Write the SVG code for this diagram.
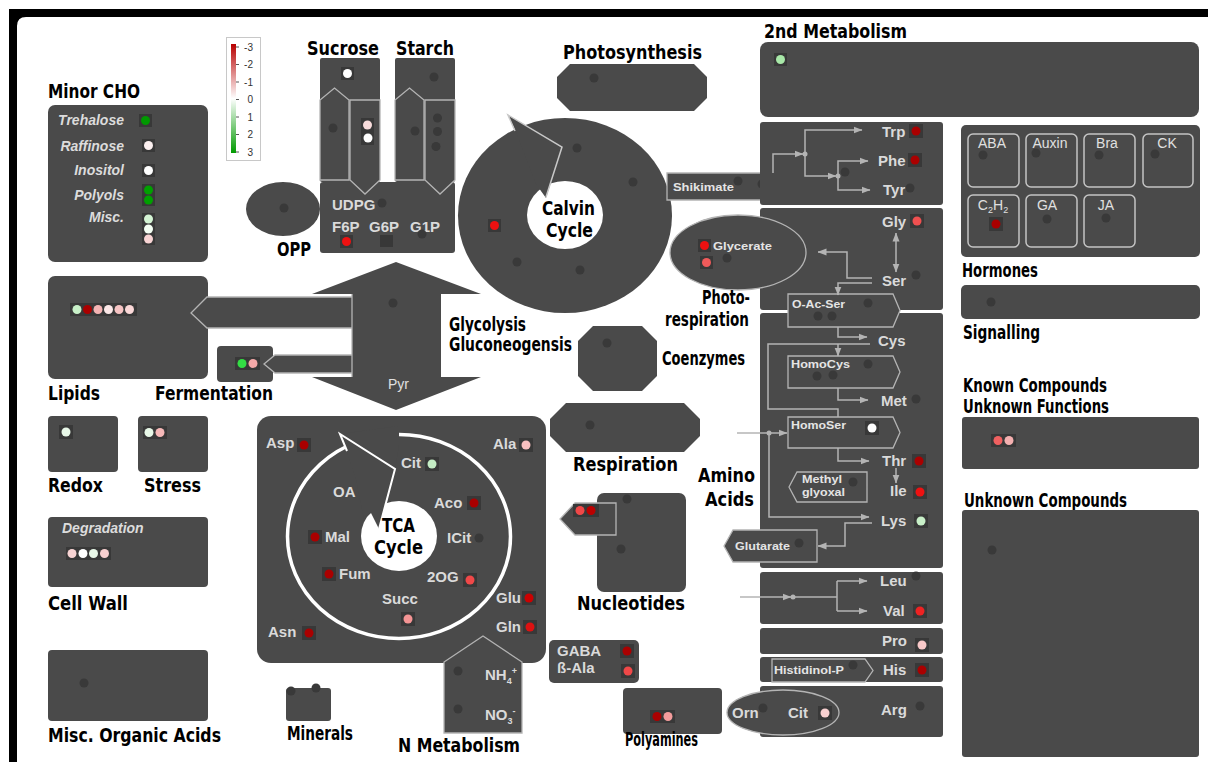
<svg xmlns="http://www.w3.org/2000/svg" width="1208" height="762" viewBox="0 0 1208 762">
<defs>
<style>
.n{fill:#4a4a4a}
.o{fill:#4a4a4a;stroke:#b4b4b4;stroke-width:1.3}
.ln{fill:none;stroke:#b4b4b4;stroke-width:1.3}
.bk{fill:#383838}
.d{fill:#393939}
.h{font-family:"DejaVu Sans Condensed","DejaVu Sans",sans-serif;font-stretch:condensed;font-weight:bold;font-size:19px;fill:#000}
.t{font-family:"Liberation Sans",Arial,sans-serif;font-weight:bold;font-size:15px;fill:#dadada}
.s{font-family:"Liberation Sans",Arial,sans-serif;font-weight:bold;font-size:11px;fill:#e4e4e4}
.i{font-family:"Liberation Sans",Arial,sans-serif;font-weight:bold;font-style:italic;font-size:14px;fill:#dcdcdc}
.g{font-family:"Liberation Sans",Arial,sans-serif;font-size:14px;fill:#e0e0e0}
.lg{font-family:"Liberation Sans",Arial,sans-serif;font-size:10px;fill:#333}
.c{fill:none;stroke:#b4b4b4;stroke-width:1.5}
.j{fill:#b4b4b4}
.hb{fill:none;stroke:#c4c4c4;stroke-width:1.5}
</style>
<marker id="ah" viewBox="0 0 9 8" markerWidth="9" markerHeight="8" refX="8.5" refY="4" orient="auto-start-reverse" markerUnits="userSpaceOnUse"><path d="M0,0.5 L9,4 L0,7.5 Z" fill="#b4b4b4"/></marker>
<linearGradient id="lgd" x1="0" y1="0" x2="0" y2="1"><stop offset="0" stop-color="#b80000"/><stop offset="0.5" stop-color="#ffffff"/><stop offset="1" stop-color="#009a00"/></linearGradient>
</defs>
<rect width="1208" height="762" fill="#fff"/>
<path d="M9,9 H1208 V17 H26 Q17,17 17,26 V762 H9 Z" fill="#000"/>

<g id="legend">
<rect x="226.5" y="37.5" width="34" height="123" fill="#fff" stroke="#c8c8c8"/>
<rect x="231" y="44" width="5" height="109" fill="url(#lgd)"/>
<path d="M236,47H239M236,64.5H239M236,82H239M236,99.5H239M236,117H239M236,134.5H239M236,152H239" stroke="#555" stroke-width="1"/>
<text class="lg" x="253" y="50.5" text-anchor="end">-3</text>
<text class="lg" x="253" y="68" text-anchor="end">-2</text>
<text class="lg" x="253" y="85.5" text-anchor="end">-1</text>
<text class="lg" x="253" y="103" text-anchor="end">0</text>
<text class="lg" x="253" y="120.5" text-anchor="end">1</text>
<text class="lg" x="253" y="138" text-anchor="end">2</text>
<text class="lg" x="253" y="155.5" text-anchor="end">3</text>
</g>

<g id="minor-cho">
<text class="h" x="48" y="98" textLength="92" lengthAdjust="spacingAndGlyphs">Minor CHO</text>
<rect class="n" x="48" y="105" width="160" height="157" rx="7"/>
<text class="i" x="124" y="125" text-anchor="end">Trehalose</text>
<text class="i" x="124" y="151" text-anchor="end">Raffinose</text>
<text class="i" x="124" y="175" text-anchor="end">Inositol</text>
<text class="i" x="124" y="200" text-anchor="end">Polyols</text>
<text class="i" x="124" y="222" text-anchor="end">Misc.</text>
<rect class="bk" x="139" y="114" width="13" height="13"/><circle cx="145.5" cy="120.5" r="4.5" fill="#009900"/>
<rect class="bk" x="142" y="139" width="13" height="13"/><circle cx="148.5" cy="145.5" r="4.5" fill="#fcf0f0"/>
<rect class="bk" x="142" y="164" width="13" height="13"/><circle cx="148.5" cy="170.5" r="4.5" fill="#ffffff"/>
<rect class="bk" x="142" y="184" width="13" height="22"/><circle cx="148.5" cy="190" r="4.5" fill="#00a000"/><circle cx="148.5" cy="200" r="4.5" fill="#00a000"/>
<rect class="bk" x="142" y="213" width="13" height="32"/><circle cx="148.5" cy="219" r="4.5" fill="#d4f4d4"/><circle cx="148.5" cy="229" r="4.5" fill="#f4fff4"/><circle cx="148.5" cy="239" r="4.5" fill="#f8d4d4"/>
</g>

<g id="opp">
<ellipse class="n" cx="283" cy="209" rx="37" ry="27"/>
<circle class="d" cx="284" cy="208" r="4.5"/>
<text class="h" x="277" y="256" textLength="34" lengthAdjust="spacingAndGlyphs">OPP</text>
</g>

<g id="sugar-pool">
<rect class="n" x="320" y="182" width="135" height="71" rx="3"/>
<text class="t" x="332" y="210" font-size="14" fill="#cfcfcf">UDPG</text>
<text class="t" x="332" y="232" font-size="14" fill="#cfcfcf">F6P</text>
<text class="t" x="369" y="232" font-size="14" fill="#cfcfcf">G6P</text>
<text class="t" x="410" y="232" font-size="14" fill="#cfcfcf">G1P</text>
<circle class="d" cx="382" cy="203" r="4.5"/>
<rect class="bk" x="340" y="235" width="13" height="13"/><circle cx="346.5" cy="241.5" r="4.5" fill="#ee1111"/>
<rect class="bk" x="380" y="235" width="13" height="12"/>
<circle class="d" cx="422" cy="234" r="4.5"/>
</g>

<g id="sucrose">
<text class="h" x="307" y="55" textLength="72" lengthAdjust="spacingAndGlyphs">Sucrose</text>
<rect class="n" x="320" y="58" width="60" height="124" rx="2"/>
<path class="ln" d="M320,180 V100 L334.5,88 L349,100 V180 Z"/>
<path class="ln" d="M350,180 V100 H380 V180 L365,194 Z"/>
<rect class="bk" x="341" y="67" width="13" height="13"/><circle cx="347.5" cy="73.5" r="4.5" fill="#ffffff"/>
<circle class="d" cx="333" cy="128" r="4.5"/>
<rect class="bk" x="361" y="118" width="13" height="27"/><circle cx="367.5" cy="125" r="4.5" fill="#f8dcdc"/><circle cx="368" cy="138" r="4.5" fill="#ffffff"/>
</g>

<g id="starch">
<text class="h" x="396" y="55" textLength="58" lengthAdjust="spacingAndGlyphs">Starch</text>
<rect class="n" x="395" y="58" width="60" height="124" rx="2"/>
<path class="ln" d="M395,180 V100 L409.5,88 L424,100 V180 Z"/>
<path class="ln" d="M425,180 V100 H455 V180 L440,194 Z"/>
<circle class="d" cx="434" cy="77" r="4.5"/>
<circle class="d" cx="415" cy="131" r="4.5"/>
<circle class="d" cx="437.5" cy="118" r="4.5"/><circle class="d" cx="437.5" cy="131.5" r="4.5"/><circle class="d" cx="436" cy="146.5" r="4.5"/>
</g>

<g id="photosynthesis">
<text class="h" x="563" y="59" textLength="139" lengthAdjust="spacingAndGlyphs">Photosynthesis</text>
<polygon class="n" points="570,64 694,64 707,77 707,98 694,111 570,111 557,98 557,77"/>
<circle class="d" cx="594" cy="78" r="4.5"/>
</g>

<g id="calvin-cycle">
<ellipse class="n" cx="565" cy="215.5" rx="107" ry="97.5"/>
<ellipse cx="565" cy="215" rx="38" ry="34" fill="#fff"/>
<polygon class="n" points="508,115 562,147 546,198 536,184 516,132"/>
<path d="M515,131 L508,115 L562,147 L546,197" fill="none" stroke="#c8c8c8" stroke-width="1.5"/>
<rect class="bk" x="488" y="219" width="13" height="13"/><circle cx="494.5" cy="225.5" r="4.5" fill="#ee1111"/>
<circle class="d" cx="577" cy="148" r="4.5"/>
<circle class="d" cx="633" cy="182" r="4.5"/>
<circle class="d" cx="517" cy="262" r="4.5"/>
<circle class="d" cx="580" cy="270" r="4.5"/>
<text class="h" x="542" y="215" font-size="20" textLength="53" lengthAdjust="spacingAndGlyphs">Calvin</text>
<text class="h" x="546" y="237" font-size="20" textLength="47" lengthAdjust="spacingAndGlyphs">Cycle</text>
</g>

<g id="shikimate">
<path class="o" d="M667,173 H793 L800,186.5 L793,200 H667 Z"/>
<text class="s" x="673" y="191" textLength="61" lengthAdjust="spacingAndGlyphs">Shikimate</text>
<circle class="d" cx="738" cy="181" r="4.5"/>
<circle class="d" cx="762" cy="184" r="4.5"/>
</g>

<g id="second-metabolism">
<text class="h" x="764" y="38" textLength="143" lengthAdjust="spacingAndGlyphs">2nd Metabolism</text>
<rect class="n" x="760" y="42" width="439" height="75" rx="8"/>
<rect class="bk" x="774" y="53" width="13" height="13"/><circle cx="780.5" cy="59.5" r="4.5" fill="#a8e8a8"/>
</g>

<g id="aromatic-aa">
<rect class="n" x="760" y="122" width="183" height="83" rx="3"/>
<text class="t" x="882" y="137">Trp</text>
<text class="t" x="878" y="166">Phe</text>
<text class="t" x="883" y="195">Tyr</text>
<rect class="bk" x="909" y="124" width="14" height="14"/><circle cx="916" cy="131" r="4.5" fill="#aa0000"/>
<rect class="bk" x="908" y="153" width="14" height="14"/><circle cx="915" cy="160" r="4.5" fill="#aa0000"/>
<circle class="d" cx="910" cy="188" r="4.5"/>
<circle class="d" cx="845" cy="172" r="4.5"/>
</g>

<g id="gly-ser">
<rect class="n" x="760" y="208" width="183" height="102" rx="3"/>
<text class="t" x="882" y="227">Gly</text>
<text class="t" x="882" y="286">Ser</text>
<rect class="bk" x="910" y="214" width="14" height="14"/><circle cx="917" cy="221" r="4.5" fill="#f05050"/>
<circle class="d" cx="916" cy="275" r="4.5"/>
</g>

<g id="glycerate">
<ellipse cx="738" cy="252.5" rx="68" ry="37.5" fill="#4a4a4a" stroke="#b4b4b4" stroke-width="1.3"/>
<rect class="bk" x="698" y="239" width="13" height="13"/><circle cx="704.5" cy="245.5" r="4.5" fill="#ee1111"/>
<rect class="bk" x="700" y="256" width="13" height="13"/><circle cx="706.5" cy="262.5" r="4.5" fill="#f05a5a"/>
<circle class="d" cx="727" cy="258" r="4.5"/>
<text class="s" x="713" y="250" textLength="59" lengthAdjust="spacingAndGlyphs">Glycerate</text>
<text class="h" x="702" y="304" font-size="15" textLength="48" lengthAdjust="spacingAndGlyphs">Photo-</text>
<text class="h" x="665" y="326" font-size="15" textLength="84" lengthAdjust="spacingAndGlyphs">respiration</text>
</g>

<g id="sulfur-aa">
<rect class="n" x="760" y="313" width="183" height="255" rx="3"/>
<text class="t" x="878" y="346">Cys</text>
<text class="t" x="881" y="406">Met</text>
<text class="t" x="882" y="466">Thr</text>
<text class="t" x="890" y="496">Ile</text>
<text class="t" x="881" y="526">Lys</text>
<circle class="d" cx="916" cy="399" r="4.5"/>
<rect class="bk" x="912" y="454" width="14" height="14"/><circle cx="919" cy="461" r="4.5" fill="#aa0000"/>
<rect class="bk" x="913" y="485" width="14" height="14"/><circle cx="920" cy="492" r="4.5" fill="#ee1111"/>
<rect class="bk" x="914" y="514" width="14" height="14"/><circle cx="921" cy="521" r="4.5" fill="#c8f0c8"/>
</g>

<g id="o-ac-ser">
<path class="o" d="M788,294 H893 L900,310.5 L893,327 H788 Z"/>
<text class="s" x="792" y="308" textLength="53" lengthAdjust="spacingAndGlyphs">O-Ac-Ser</text>
<circle class="d" cx="868" cy="303" r="4.5"/>
<circle class="d" cx="818" cy="316" r="4.5"/>
<circle class="d" cx="832" cy="316" r="4.5"/>
</g>

<g id="homocys">
<path class="o" d="M788,356 H893 L900,372 L893,388 H788 Z"/>
<text class="s" x="791" y="368" textLength="59" lengthAdjust="spacingAndGlyphs">HomoCys</text>
<circle class="d" cx="868" cy="364" r="4.5"/>
<circle class="d" cx="817" cy="376" r="4.5"/>
<circle class="d" cx="833" cy="375" r="4.5"/>
</g>

<g id="homoser">
<path class="o" d="M788,417 H893 L900,432.5 L893,448 H788 Z"/>
<text class="s" x="791" y="429" textLength="55" lengthAdjust="spacingAndGlyphs">HomoSer</text>
<rect class="bk" x="865" y="421" width="14" height="14"/><circle cx="872" cy="428" r="4.5" fill="#ffffff"/>
</g>

<g id="methylglyoxal">
<path class="o" d="M789,487 L797,472 H867 V502 H797 Z"/>
<text class="s" x="802" y="483" textLength="40" lengthAdjust="spacingAndGlyphs">Methyl</text>
<text class="s" x="802" y="496" textLength="43" lengthAdjust="spacingAndGlyphs">glyoxal</text>
<circle class="d" cx="853" cy="482" r="4.5"/>
</g>

<g id="glutarate">
<path class="o" d="M724,546 L733,530 H817 V562 H733 Z"/>
<text class="s" x="735" y="550" textLength="55" lengthAdjust="spacingAndGlyphs">Glutarate</text>
<circle class="d" cx="799" cy="543" r="4.5"/>
</g>

<g id="branched-aa">
<rect class="n" x="760" y="572" width="183" height="52" rx="3"/>
<text class="t" x="880" y="586">Leu</text>
<text class="t" x="883" y="616">Val</text>
<circle class="d" cx="916" cy="576" r="4.5"/>
<rect class="bk" x="913" y="604" width="14" height="14"/><circle cx="920" cy="611" r="4.5" fill="#ee2222"/>
</g>

<g id="pro">
<rect class="n" x="760" y="628" width="183" height="26" rx="3"/>
<text class="t" x="882" y="646">Pro</text>
<rect class="bk" x="915" y="638" width="14" height="14"/><circle cx="922" cy="645" r="4.5" fill="#f8c8c8"/>
</g>

<g id="his">
<rect class="n" x="760" y="657" width="183" height="25" rx="3"/>
<path class="o" d="M772,659 H865 L873,670.5 L865,682 H772 Z"/>
<text class="s" x="774" y="674" textLength="70" lengthAdjust="spacingAndGlyphs">Histidinol-P</text>
<circle class="d" cx="853" cy="665" r="4.5"/>
<text class="t" x="883" y="675">His</text>
<rect class="bk" x="915" y="663" width="14" height="14"/><circle cx="922" cy="670" r="4.5" fill="#aa0000"/>
</g>

<g id="arg">
<rect class="n" x="760" y="686" width="183" height="51" rx="3"/>
<text class="t" x="881" y="715">Arg</text>
<circle class="d" cx="920" cy="706" r="4.5"/>
<ellipse cx="783" cy="712.5" rx="56" ry="22.5" fill="#4a4a4a" stroke="#b4b4b4" stroke-width="1.3"/>
<text class="t" x="732" y="718" font-size="14">Orn</text>
<circle class="d" cx="763" cy="708" r="4.5"/>
<text class="t" x="788" y="718">Cit</text>
<rect class="bk" x="818" y="706" width="14" height="14"/><circle cx="825" cy="713" r="4.5" fill="#f8d0d0"/>
</g>

<g id="amino-acids-label">
<text class="h" x="698" y="482" font-size="20" textLength="57" lengthAdjust="spacingAndGlyphs">Amino</text>
<text class="h" x="705" y="506" font-size="20" textLength="49" lengthAdjust="spacingAndGlyphs">Acids</text>
</g>

<g id="hormones">
<rect class="n" x="961" y="125" width="239" height="132" rx="5"/>
<rect class="hb" x="968" y="134" width="51" height="53" rx="5"/>
<rect class="hb" x="1026" y="134" width="51" height="53" rx="5"/>
<rect class="hb" x="1084" y="134" width="51" height="53" rx="5"/>
<rect class="hb" x="1143" y="134" width="50" height="53" rx="5"/>
<rect class="hb" x="968" y="195" width="51" height="52" rx="5"/>
<rect class="hb" x="1026" y="195" width="51" height="52" rx="5"/>
<rect class="hb" x="1084" y="195" width="51" height="52" rx="5"/>
<text class="g" x="992" y="148" text-anchor="middle">ABA</text>
<text class="g" x="1050" y="148" text-anchor="middle">Auxin</text>
<text class="g" x="1107" y="148" text-anchor="middle">Bra</text>
<text class="g" x="1167" y="148" text-anchor="middle">CK</text>
<text class="g" x="993" y="210" text-anchor="middle">C<tspan font-size="9" dy="3">2</tspan><tspan dy="-3">H</tspan><tspan font-size="9" dy="3">2</tspan></text>
<text class="g" x="1047" y="210" text-anchor="middle">GA</text>
<text class="g" x="1106" y="210" text-anchor="middle">JA</text>
<circle class="d" cx="983" cy="155" r="4.5"/>
<circle class="d" cx="1036" cy="153" r="4.5"/>
<circle class="d" cx="1099" cy="155" r="4.5"/>
<circle class="d" cx="1155" cy="154" r="4.5"/>
<rect class="bk" x="989" y="217" width="14" height="14"/><circle cx="996" cy="224" r="4.5" fill="#aa0000"/>
<circle class="d" cx="1047" cy="219" r="4.5"/>
<circle class="d" cx="1106" cy="218" r="4.5"/>
<text class="h" x="962" y="277" font-size="18" textLength="76" lengthAdjust="spacingAndGlyphs">Hormones</text>
</g>

<g id="signalling">
<rect class="n" x="961" y="285" width="239" height="34" rx="5"/>
<circle class="d" cx="991" cy="302" r="4.5"/>
<text class="h" x="963" y="339" font-size="17" textLength="77" lengthAdjust="spacingAndGlyphs">Signalling</text>
</g>

<g id="known-compounds">
<text class="h" x="963" y="392" font-size="17" textLength="144" lengthAdjust="spacingAndGlyphs">Known Compounds</text>
<text class="h" x="963" y="413" font-size="17" textLength="146" lengthAdjust="spacingAndGlyphs">Unknown Functions</text>
<rect class="n" x="962" y="417" width="237" height="52" rx="3"/>
<rect class="bk" x="991" y="434" width="25" height="13"/><circle cx="998" cy="440.5" r="4.5" fill="#f06060"/><circle cx="1009" cy="440.5" r="4.5" fill="#f4b0b0"/>
</g>

<g id="unknown-compounds">
<text class="h" x="964" y="507" font-size="17" textLength="163" lengthAdjust="spacingAndGlyphs">Unknown Compounds</text>
<rect class="n" x="962" y="510" width="237" height="247" rx="3"/>
<circle class="d" cx="992" cy="550" r="4.5"/>
</g>

<g id="glycolysis">
<polygon class="n" points="396,262 481,294 441,294 441,377 481,377 396,410 312,377 352,377 352,294 312,294"/>
<circle class="d" cx="393" cy="303" r="4.5"/>
<text class="g" x="388" y="389" fill="#d0d0d0">Pyr</text>
<text class="h" x="449" y="331" font-size="15" textLength="77" lengthAdjust="spacingAndGlyphs">Glycolysis</text>
<text class="h" x="449" y="351" font-size="15" textLength="123" lengthAdjust="spacingAndGlyphs">Gluconeogensis</text>
</g>

<g id="lipids">
<rect class="n" x="48" y="276" width="160" height="103" rx="7"/>
<path class="o" d="M352,297 H207 L191,313 L207,328 H352"/>
<rect class="bk" x="70" y="303" width="67" height="13"/>
<circle cx="77" cy="309.5" r="4.5" fill="#c8f0c8"/><circle cx="87.5" cy="309.5" r="4.5" fill="#aa0000"/><circle cx="98" cy="309.5" r="4.5" fill="#f4b4b4"/><circle cx="108.5" cy="309.5" r="4.5" fill="#fce8e8"/><circle cx="119" cy="309.5" r="4.5" fill="#f6c4c4"/><circle cx="129.5" cy="309.5" r="4.5" fill="#fad8d8"/>
<text class="h" x="48" y="400" font-size="18" textLength="52" lengthAdjust="spacingAndGlyphs">Lipids</text>
</g>

<g id="fermentation">
<rect class="n" x="217" y="346" width="56" height="36" rx="4"/>
<path class="o" d="M352,355 H275 L264,364 L275,373 H352"/>
<rect class="bk" x="235" y="357" width="25" height="13"/><circle cx="242" cy="363.5" r="4.5" fill="#33dd44"/><circle cx="253" cy="363.5" r="4.5" fill="#f4a8a8"/>
<text class="h" x="155" y="400" font-size="18" textLength="118" lengthAdjust="spacingAndGlyphs">Fermentation</text>
</g>
<path d="M352,294 V377" class="ln"/>

<g id="coenzymes">
<polygon class="n" points="593,326 642,326 657,341 657,376 642,391 593,391 578,376 578,341"/>
<circle class="d" cx="607" cy="343" r="4.5"/>
<text class="h" x="662" y="365" font-size="17" textLength="83" lengthAdjust="spacingAndGlyphs">Coenzymes</text>
</g>

<g id="respiration">
<polygon class="n" points="566,403 684,403 700,419 700,436 684,452 566,452 550,436 550,419"/>
<circle class="d" cx="590" cy="425" r="4.5"/>
<text class="h" x="573" y="471" textLength="105" lengthAdjust="spacingAndGlyphs">Respiration</text>
</g>

<g id="nucleotides">
<rect class="n" x="597" y="493" width="89" height="99" rx="7"/>
<path class="o" d="M616,503 H575 L560,519 L575,535 H616 Z"/>
<rect class="bk" x="573" y="504" width="26" height="13"/><circle cx="580" cy="510.5" r="4.5" fill="#f04848"/><circle cx="591" cy="510.5" r="4.5" fill="#bb0000"/>
<circle class="d" cx="627" cy="499" r="4.5"/>
<circle class="d" cx="621" cy="549" r="4.5"/>
<text class="h" x="577" y="610" textLength="108" lengthAdjust="spacingAndGlyphs">Nucleotides</text>
</g>

<g id="tca-cycle">
<rect class="n" x="257" y="416" width="289" height="247" rx="14"/>
<ellipse cx="399" cy="536.5" rx="111.5" ry="102" fill="none" stroke="#fff" stroke-width="3.5"/>
<ellipse cx="399" cy="536" rx="38" ry="35" fill="#fff"/>
<polygon class="n" points="340,434 399,426 399,445 395,469 379,529 371,513 364,519 356,480 347,452"/>
<polyline points="347,451 340,434 395,469 379,529" fill="none" stroke="#fff" stroke-width="2"/>
<text class="h" x="382" y="532" font-size="20" textLength="33" lengthAdjust="spacingAndGlyphs">TCA</text>
<text class="h" x="374" y="554" font-size="20" textLength="49" lengthAdjust="spacingAndGlyphs">Cycle</text>
<text class="t" x="266" y="448">Asp</text>
<text class="t" x="493" y="449">Ala</text>
<text class="t" x="401" y="468">Cit</text>
<text class="t" x="333" y="497">OA</text>
<text class="t" x="434" y="508">Aco</text>
<text class="t" x="325" y="542">Mal</text>
<text class="t" x="447" y="543">ICit</text>
<text class="t" x="339" y="579">Fum</text>
<text class="t" x="427" y="582">2OG</text>
<text class="t" x="382" y="604">Succ</text>
<text class="t" x="496" y="603">Glu</text>
<text class="t" x="496" y="632">Gln</text>
<text class="t" x="268" y="637">Asn</text>
<rect class="bk" x="297" y="438" width="14" height="14"/><circle cx="304" cy="445" r="4.5" fill="#aa0000"/>
<rect class="bk" x="519" y="438" width="14" height="14"/><circle cx="526" cy="445" r="4.5" fill="#f8c0c0"/>
<rect class="bk" x="425" y="457" width="14" height="14"/><circle cx="432" cy="464" r="4.5" fill="#c4ecc4"/>
<rect class="bk" x="467" y="496" width="14" height="14"/><circle cx="474" cy="503" r="4.5" fill="#aa0000"/>
<rect class="bk" x="308" y="530" width="14" height="14"/><circle cx="315" cy="537" r="4.5" fill="#aa0000"/>
<circle class="d" cx="479" cy="538" r="4.5"/>
<rect class="bk" x="322" y="567" width="14" height="14"/><circle cx="329" cy="574" r="4.5" fill="#aa0000"/>
<rect class="bk" x="463" y="573" width="14" height="14"/><circle cx="470" cy="580" r="4.5" fill="#f04848"/>
<rect class="bk" x="401" y="612" width="14" height="14"/><circle cx="408" cy="619" r="4.5" fill="#f49494"/>
<rect class="bk" x="522" y="591" width="14" height="14"/><circle cx="529" cy="598" r="4.5" fill="#cc0000"/>
<rect class="bk" x="523" y="620" width="14" height="14"/><circle cx="530" cy="627" r="4.5" fill="#dd1111"/>
<rect class="bk" x="302" y="626" width="14" height="14"/><circle cx="309" cy="633" r="4.5" fill="#aa0000"/>
</g>

<g id="redox">
<rect class="n" x="48" y="416" width="70" height="56" rx="4"/>
<rect class="bk" x="59" y="425" width="14" height="14"/><circle cx="66" cy="432" r="4.5" fill="#e8f8e8"/>
<text class="h" x="48" y="492" font-size="18" textLength="55" lengthAdjust="spacingAndGlyphs">Redox</text>
</g>

<g id="stress">
<rect class="n" x="138" y="416" width="70" height="56" rx="4"/>
<rect class="bk" x="143" y="426" width="24" height="13"/><circle cx="149" cy="432.5" r="4.5" fill="#e8f8e8"/><circle cx="160" cy="432.5" r="4.5" fill="#f6b8b8"/>
<text class="h" x="144" y="492" font-size="18" textLength="57" lengthAdjust="spacingAndGlyphs">Stress</text>
</g>

<g id="cell-wall">
<rect class="n" x="48" y="517" width="160" height="70" rx="4"/>
<text class="i" x="62" y="533">Degradation</text>
<rect class="bk" x="66" y="547" width="45" height="13"/>
<circle cx="72" cy="553.5" r="4.5" fill="#f8d4d4"/><circle cx="83" cy="553.5" r="4.5" fill="#ffffff"/><circle cx="93.5" cy="553.5" r="4.5" fill="#e8f8e8"/><circle cx="104.5" cy="553.5" r="4.5" fill="#f8d0d0"/>
<text class="h" x="48" y="610" font-size="18" textLength="80" lengthAdjust="spacingAndGlyphs">Cell Wall</text>
</g>

<g id="misc-organic-acids">
<rect class="n" x="48" y="650" width="160" height="71" rx="4"/>
<circle class="d" cx="84" cy="683" r="4.5"/>
<text class="h" x="48" y="742" font-size="18" textLength="173" lengthAdjust="spacingAndGlyphs">Misc. Organic Acids</text>
</g>

<g id="minerals">
<rect class="n" x="286" y="688" width="45" height="33" rx="3"/>
<circle class="d" cx="291" cy="691" r="4.5"/>
<circle class="d" cx="316" cy="688" r="4.5"/>
<text class="h" x="287" y="740" font-size="16" textLength="66" lengthAdjust="spacingAndGlyphs">Minerals</text>
</g>

<g id="n-metabolism">
<path class="o" d="M444,733 V662 L483,636 L522,662 V733 Z"/>
<circle class="d" cx="458" cy="671" r="4.5"/>
<circle class="d" cx="458" cy="709" r="4.5"/>
<text class="t" x="485" y="680" font-size="14">NH<tspan font-size="9" dy="4">4</tspan><tspan font-size="9" dy="-10">+</tspan></text>
<text class="t" x="485" y="720" font-size="14">NO<tspan font-size="9" dy="4">3</tspan><tspan font-size="9" dy="-10">-</tspan></text>
<text class="h" x="398" y="752" textLength="122" lengthAdjust="spacingAndGlyphs">N Metabolism</text>
</g>

<g id="gaba">
<rect class="n" x="549" y="640" width="90" height="43" rx="5"/>
<text class="t" x="557" y="656">GABA</text>
<text class="t" x="557" y="673">ß-Ala</text>
<rect class="bk" x="620" y="644" width="14" height="14"/><circle cx="627" cy="651" r="4.5" fill="#aa0000"/>
<rect class="bk" x="621" y="664" width="14" height="14"/><circle cx="628" cy="671" r="4.5" fill="#f04848"/>
</g>

<g id="polyamines">
<rect class="n" x="623" y="688" width="99" height="46" rx="4"/>
<rect class="bk" x="650" y="710" width="25" height="13"/><circle cx="657" cy="716.5" r="4.5" fill="#aa0000"/><circle cx="668" cy="716.5" r="4.5" fill="#f49c9c"/>
<text class="h" x="625" y="746" font-size="12" textLength="73" lengthAdjust="spacingAndGlyphs">Polyamines</text>
</g>

<g id="connectors">
<path class="c" d="M773,173 V154 H803" marker-end="url(#ah)"/>
<circle class="j" cx="805" cy="154" r="2.5"/>
<path class="c" d="M805,154 V130 H862" marker-end="url(#ah)"/>
<path class="c" d="M805,154 V176 H836" marker-end="url(#ah)"/>
<circle class="j" cx="838" cy="176" r="2.5"/>
<path class="c" d="M838,176 V161 H868" marker-end="url(#ah)"/>
<path class="c" d="M838,176 V190 H870" marker-end="url(#ah)"/>
<path class="c" d="M896,233 V272" marker-start="url(#ah)" marker-end="url(#ah)"/>
<path class="c" d="M872,278 H847 V252 H818" marker-end="url(#ah)"/>
<path class="c" d="M872,283 H838 V295" marker-end="url(#ah)"/>
<path class="c" d="M838,327 V337 H867" marker-end="url(#ah)"/>
<path class="c" d="M870,344 H768 V409 H838 V417"/>
<path class="c" d="M838,344 V356" marker-end="url(#ah)"/>
<path class="c" d="M838,388 V400 H868" marker-end="url(#ah)"/>
<path class="c" d="M737,433 H787" marker-end="url(#ah)"/>
<circle class="j" cx="769" cy="433" r="2.5"/>
<path class="c" d="M769,433 V517 H869" marker-end="url(#ah)"/>
<path class="c" d="M838,448 V461 H869" marker-end="url(#ah)"/>
<path class="c" d="M896,468 V483" marker-end="url(#ah)"/>
<path class="c" d="M872,523 H845 V546 H818" marker-end="url(#ah)"/>
<path class="c" d="M740,597 H791" marker-end="url(#ah)"/>
<circle class="j" cx="793" cy="597" r="2.5"/>
<path class="c" d="M793,597 H837 M837,581 V611"/>
<path class="c" d="M837,581 H867" marker-end="url(#ah)"/>
<path class="c" d="M837,611 H867" marker-end="url(#ah)"/>
</g>
</svg>
